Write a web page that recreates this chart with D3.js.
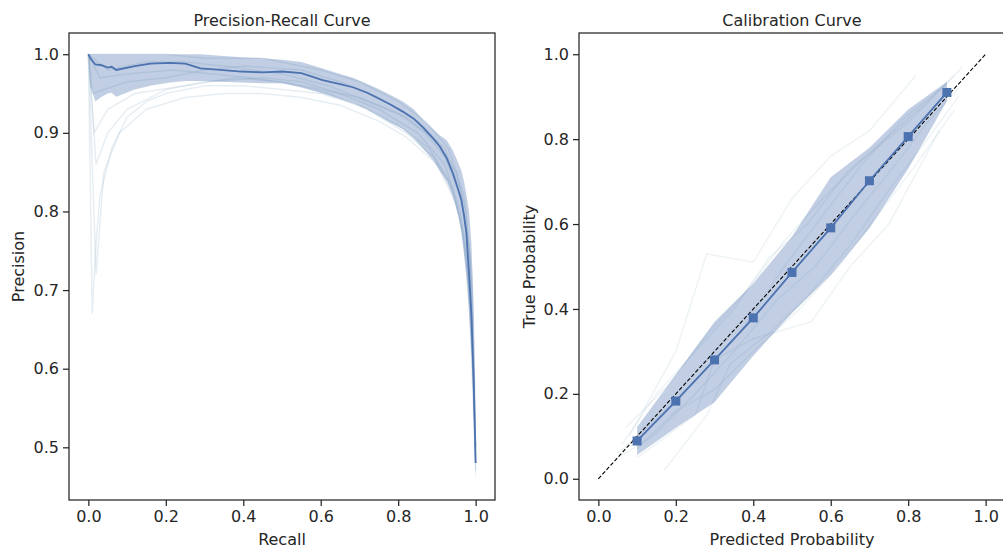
<!DOCTYPE html>
<html>
<head>
<meta charset="utf-8">
<script src="https://cdn.jsdelivr.net/npm/d3@7"></script>
<style>
  body { margin: 0; background: #fff; }
  text { font-family: "DejaVu Sans", sans-serif; fill: #262626; }
</style>
</head>
<body>
<script>
let w = 1003;
let h = 549;

// ---- precision-recall data ----
let prRecall = [0, 0.005, 0.018, 0.034, 0.05, 0.06, 0.072, 0.12, 0.16, 0.21, 0.25, 0.29, 0.34, 0.395, 0.45, 0.5, 0.55, 0.605, 0.65, 0.683, 0.72, 0.752, 0.78, 0.812, 0.84, 0.864, 0.89, 0.907, 0.925, 0.941, 0.955, 0.963, 0.97, 0.976, 0.983, 0.989, 0.995, 0.999, 1.0];
let prMean = [1.0, 0.995, 0.987, 0.986, 0.983, 0.984, 0.98, 0.985, 0.988, 0.989, 0.988, 0.982, 0.98, 0.978, 0.977, 0.978, 0.976, 0.967, 0.962, 0.958, 0.951, 0.943, 0.936, 0.927, 0.918, 0.907, 0.893, 0.883, 0.868, 0.849, 0.828, 0.815, 0.795, 0.773, 0.72, 0.67, 0.585, 0.5, 0.48];
let prUpper = [1.0, 1.0, 1.0, 1.0, 1.0, 1.0, 1.0, 1.0, 1.0, 1.0, 1.0, 1.0, 0.998, 0.996, 0.995, 0.993, 0.99, 0.982, 0.975, 0.97, 0.962, 0.955, 0.948, 0.94, 0.93, 0.917, 0.905, 0.897, 0.891, 0.878, 0.862, 0.852, 0.838, 0.822, 0.8, 0.76, 0.68, 0.58, 0.5];
let prLower = [1.0, 0.96, 0.94, 0.946, 0.95, 0.951, 0.946, 0.955, 0.96, 0.964, 0.966, 0.966, 0.965, 0.964, 0.963, 0.963, 0.958, 0.95, 0.943, 0.938, 0.93, 0.921, 0.913, 0.905, 0.893, 0.88, 0.865, 0.852, 0.838, 0.82, 0.795, 0.775, 0.745, 0.715, 0.67, 0.62, 0.54, 0.47, 0.46];

// individual folds (recall, precision)
let prFolds = [
  [[0,1],[0.01,0.67],[0.02,0.76],[0.03,0.82],[0.06,0.88],[0.1,0.92],[0.15,0.94],[0.2,0.95],[0.3,0.96],[0.4,0.96],[0.5,0.955],[0.6,0.95],[0.7,0.935],[0.8,0.91],[0.88,0.88],[0.93,0.84],[0.96,0.79],[0.98,0.72],[0.99,0.64],[1.0,0.5]],
  [[0,1],[0.02,0.86],[0.05,0.9],[0.1,0.93],[0.2,0.955],[0.3,0.965],[0.45,0.97],[0.55,0.965],[0.65,0.95],[0.75,0.93],[0.85,0.9],[0.92,0.86],[0.96,0.8],[0.985,0.7],[1.0,0.5]],
  [[0,1],[0.01,0.95],[0.1,0.965],[0.2,0.97],[0.3,0.98],[0.4,0.985],[0.55,0.98],[0.65,0.965],[0.75,0.945],[0.85,0.915],[0.92,0.88],[0.96,0.83],[0.985,0.74],[1.0,0.48]],
  [[0,1],[0.2,1],[0.3,0.995],[0.45,0.995],[0.6,0.98],[0.7,0.965],[0.8,0.94],[0.87,0.915],[0.93,0.88],[0.97,0.82],[0.99,0.72],[1.0,0.5]],
  [[0,1],[0.02,0.72],[0.04,0.85],[0.08,0.9],[0.15,0.93],[0.25,0.945],[0.35,0.95],[0.45,0.95],[0.55,0.945],[0.65,0.935],[0.75,0.915],[0.82,0.895],[0.9,0.86],[0.95,0.81],[0.98,0.74],[1.0,0.47]],
  [[0,1],[0.05,0.98],[0.15,0.99],[0.25,0.99],[0.35,0.985],[0.5,0.975],[0.62,0.96],[0.72,0.94],[0.82,0.92],[0.9,0.89],[0.95,0.85],[0.975,0.8],[0.99,0.7],[1.0,0.5]],
  [[0,1],[0.015,0.9],[0.05,0.93],[0.12,0.95],[0.25,0.96],[0.38,0.97],[0.5,0.965],[0.6,0.955],[0.7,0.945],[0.8,0.925],[0.87,0.9],[0.92,0.87],[0.96,0.82],[0.985,0.75],[1.0,0.49]],
  [[0,1],[0.03,0.97],[0.1,0.975],[0.22,0.98],[0.32,0.975],[0.42,0.97],[0.52,0.962],[0.62,0.95],[0.72,0.93],[0.82,0.9],[0.89,0.87],[0.94,0.83],[0.97,0.77],[0.99,0.66],[1.0,0.5]]
];

// ---- calibration data ----
let calBins = [0.1, 0.2, 0.3, 0.4, 0.5, 0.6, 0.7, 0.8, 0.9];
let calMean = [0.089, 0.183, 0.28, 0.379, 0.486, 0.591, 0.702, 0.806, 0.91];
let calLower = [0.056, 0.12, 0.18, 0.29, 0.39, 0.48, 0.59, 0.73, 0.89];
let calUpper = [0.122, 0.245, 0.37, 0.46, 0.57, 0.71, 0.78, 0.87, 0.935];

let calFolds = [
  [[0.05,0.05],[0.14,0.1],[0.25,0.2],[0.35,0.3],[0.46,0.42],[0.56,0.5],[0.66,0.62],[0.75,0.72],[0.85,0.84],[0.93,0.92]],
  [[0.06,0.08],[0.15,0.2],[0.25,0.3],[0.35,0.4],[0.44,0.52],[0.54,0.6],[0.64,0.72],[0.74,0.8],[0.84,0.88],[0.94,0.97]],
  [[0.17,0.02],[0.28,0.15],[0.34,0.27],[0.45,0.35],[0.55,0.44],[0.65,0.55],[0.75,0.68],[0.85,0.8],[0.93,0.9]],
  [[0.08,0.1],[0.2,0.3],[0.28,0.53],[0.4,0.51],[0.5,0.66],[0.6,0.76],[0.7,0.82],[0.82,0.95]],
  [[0.05,0.06],[0.15,0.14],[0.27,0.25],[0.37,0.35],[0.48,0.5],[0.58,0.62],[0.68,0.74],[0.79,0.85],[0.9,0.93]],
  [[0.1,0.07],[0.2,0.16],[0.3,0.21],[0.4,0.3],[0.52,0.4],[0.62,0.5],[0.72,0.62],[0.82,0.74],[0.92,0.87]],
  [[0.07,0.12],[0.18,0.22],[0.28,0.34],[0.38,0.44],[0.48,0.56],[0.58,0.66],[0.68,0.75],[0.8,0.84],[0.92,0.95]],
  [[0.1,0.05],[0.25,0.15],[0.3,0.28],[0.4,0.33],[0.55,0.37],[0.65,0.5],[0.75,0.6],[0.88,0.82]]
];

let diag = [0, 1];
let prTicksX = [0, 0.2, 0.4, 0.6, 0.8, 1.0];
let prTicksY = [0.5, 0.6, 0.7, 0.8, 0.9, 1.0];
let calTicks = [0, 0.2, 0.4, 0.6, 0.8, 1.0];

let blue = "#4c72b0";
let faint = "#a9c2d4";

let svg = d3.select("body")
  .append("svg")
  .attr("width", w)
  .attr("height", h);

function drawFrame(g, xScale, yScale, xTicks, yTicks, title, xLabel, yLabel, yLabelX) {
  let x0 = xScale.range()[0], x1 = xScale.range()[1];
  let y0 = yScale.range()[0], y1 = yScale.range()[1];

  let xAxis = d3.axisBottom(xScale).tickValues(xTicks).tickFormat(d3.format(".1f")).tickSize(6).tickPadding(5);
  let yAxis = d3.axisLeft(yScale).tickValues(yTicks).tickFormat(d3.format(".1f")).tickSize(6).tickPadding(4);

  let gx = g.append("g").attr("transform", "translate(0," + y0 + ")").call(xAxis);
  let gy = g.append("g").attr("transform", "translate(" + x0 + ",0)").call(yAxis);
  [gx, gy].forEach((a) => {
    a.select(".domain").remove();
    a.selectAll("line").attr("stroke", "#262626").attr("stroke-width", 1.25);
    a.selectAll("text").style("font-size", "16px").attr("fill", "#262626");
  });

  g.append("rect")
    .attr("x", x0).attr("y", y1)
    .attr("width", x1 - x0).attr("height", y0 - y1)
    .attr("fill", "none")
    .attr("stroke", "#262626")
    .attr("stroke-width", 1.25);

  g.append("text")
    .attr("x", (x0 + x1) / 2).attr("y", 26)
    .attr("text-anchor", "middle")
    .style("font-size", "16px")
    .text(title);

  g.append("text")
    .attr("x", (x0 + x1) / 2).attr("y", 545)
    .attr("text-anchor", "middle")
    .style("font-size", "16px")
    .text(xLabel);

  g.append("text")
    .attr("transform", "translate(" + yLabelX + "," + ((y0 + y1) / 2) + ") rotate(-90)")
    .attr("text-anchor", "middle")
    .style("font-size", "16px")
    .text(yLabel);
}

// ---------- left: precision-recall ----------
let xPR = d3.scaleLinear().domain([-0.05, 1.05]).range([69, 495]);
let yPR = d3.scaleLinear().domain([0.433, 1.027]).range([500, 33]);

svg.append("clipPath").attr("id", "clip-pr")
  .append("rect").attr("x", 69).attr("y", 33).attr("width", 426).attr("height", 467);

let gPR = svg.append("g").attr("clip-path", "url(#clip-pr)");

let linePR = d3.line().x((d) => xPR(d[0])).y((d) => yPR(d[1]));

gPR.selectAll(".fold")
  .data(prFolds)
  .enter()
  .append("path")
  .attr("d", (d) => linePR(d))
  .attr("fill", "none")
  .attr("stroke", faint)
  .attr("stroke-opacity", 0.28)
  .attr("stroke-width", 1.5);

let prIdx = d3.range(prRecall.length);

gPR.append("path")
  .attr("d", d3.area()
    .x((i) => xPR(prRecall[i]))
    .y0((i) => yPR(prLower[i]))
    .y1((i) => yPR(prUpper[i]))(prIdx))
  .attr("fill", blue)
  .attr("fill-opacity", 0.35);

gPR.append("path")
  .attr("d", d3.line()
    .x((i) => xPR(prRecall[i]))
    .y((i) => yPR(prMean[i]))(prIdx))
  .attr("fill", "none")
  .attr("stroke", blue)
  .attr("stroke-width", 1.8);

drawFrame(svg.append("g"), xPR, yPR, prTicksX, prTicksY, "Precision-Recall Curve", "Recall", "Precision", 24);

// ---------- right: calibration ----------
let xCal = d3.scaleLinear().domain([-0.05, 1.05]).range([579, 1005]);
let yCal = d3.scaleLinear().domain([-0.05, 1.05]).range([500, 33]);

svg.append("clipPath").attr("id", "clip-cal")
  .append("rect").attr("x", 579).attr("y", 33).attr("width", 426).attr("height", 467);

let gCal = svg.append("g").attr("clip-path", "url(#clip-cal)");

let lineCal = d3.line().x((d) => xCal(d[0])).y((d) => yCal(d[1]));

gCal.selectAll(".fold")
  .data(calFolds)
  .enter()
  .append("path")
  .attr("d", (d) => lineCal(d))
  .attr("fill", "none")
  .attr("stroke", faint)
  .attr("stroke-opacity", 0.2)
  .attr("stroke-width", 1.5);

let calIdx = d3.range(calBins.length);

gCal.append("path")
  .attr("d", d3.area()
    .x((i) => xCal(calBins[i]))
    .y0((i) => yCal(calLower[i]))
    .y1((i) => yCal(calUpper[i]))(calIdx))
  .attr("fill", blue)
  .attr("fill-opacity", 0.35);

gCal.append("path")
  .attr("d", lineCal(diag.map((d) => [d, d])))
  .attr("fill", "none")
  .attr("stroke", "#000")
  .attr("stroke-width", 1.1)
  .attr("stroke-dasharray", "4,2");

gCal.append("path")
  .attr("d", d3.line()
    .x((i) => xCal(calBins[i]))
    .y((i) => yCal(calMean[i]))(calIdx))
  .attr("fill", "none")
  .attr("stroke", blue)
  .attr("stroke-width", 1.8);

gCal.selectAll(".marker")
  .data(calIdx)
  .enter()
  .append("rect")
  .attr("x", (i) => xCal(calBins[i]) - 4.5)
  .attr("y", (i) => yCal(calMean[i]) - 4.5)
  .attr("width", 9)
  .attr("height", 9)
  .attr("fill", blue);

drawFrame(svg.append("g"), xCal, yCal, calTicks, calTicks, "Calibration Curve", "Predicted Probability", "True Probability", 535);
</script>
</body>
</html>
